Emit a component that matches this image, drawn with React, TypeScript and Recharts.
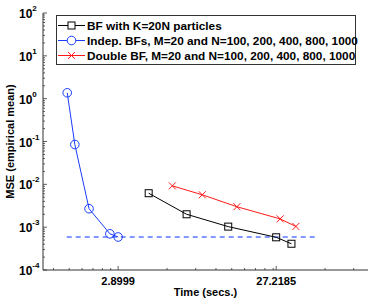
import React from 'react';
import { LineChart, Line, XAxis, YAxis } from 'recharts';

// time (secs.) and MSE for each run
const indepTime = [1.41, 1.57, 1.92, 2.58, 2.8999];
const indepMse = [1.37, 0.085, 0.0027, 0.0007, 0.00059];
const bfTime = [4.47, 7.65, 13.8, 27.2185, 33.8];
const bfMse = [0.0062, 0.002, 0.00103, 0.00058, 0.00041];
const doubleTime = [6.25, 9.55, 15.6, 28.8, 36.0];
const doubleMse = [0.0092, 0.0057, 0.003, 0.00156, 0.00104];
const floorTime = [1.4, 47.8];
const floorMse = [0.00059, 0.00059];

const legendLabels = [
    'BF with K=20N particles',
    'Indep. BFs, M=20 and N=100, 200, 400, 800, 1000',
    'Double BF, M=20 and N=100, 200, 400, 800, 1000',
];

const xMajor = [2.8999, 27.2185];
const yMajor = [1e-4, 1e-3, 1e-2, 1e-1, 1, 10, 100];
const yExp = ['-4', '-3', '-2', '-1', '0', '1', '2'];

// matlab puts minor ticks at multiples of the major step
const xMinor = [
    ...[4, 5, 6, 7, 8, 9].map((k) => (xMajor[0] * k) / 10),
    ...[2, 3, 4, 5, 6, 7, 8, 9].map((k) => xMajor[0] * k),
    xMajor[1] * 2,
    xMajor[1] * 3,
];
const xTicks = [...xMinor, ...xMajor].sort((a, b) => a - b);
const yTicks: number[] = [];
yMajor.forEach((v, i) => {
    yTicks.push(v);
    if (i < yMajor.length - 1) [2, 3, 4, 5, 6, 7, 8, 9].forEach((m) => yTicks.push(v * m));
});

const zip = (t: number[], m: number[]) => t.map((x, i) => ({ t: x, mse: m[i] }));
const indepData = zip(indepTime, indepMse);
const bfData = zip(bfTime, bfMse);
const doubleData = zip(doubleTime, doubleMse);
const floorData = zip(floorTime, floorMse);

const FONT = '"Liberation Sans", Arial, sans-serif';
const AX = '#333';
const BLUE = '#1a3cff';
const RED = '#ff1a1a';

const isMajorY = (v: number) => yMajor.some((m) => Math.abs(m - v) / m < 1e-9);

const XTick = (props: any) => {
    const { x, y, payload, top } = props;
    const major = xMajor.includes(payload.value);
    const len = major ? 4 : 2;
    const dir = top ? 1 : -1;
    return (
        <g>
            <line x1={x} x2={x} y1={y} y2={y + dir * len} stroke={AX} strokeWidth={0.8} />
            {!top && major && (
                <text x={x} y={y + 15} textAnchor="middle" fontFamily={FONT} fontWeight="bold" fontSize={11} fill="#000">
                    {payload.value}
                </text>
            )}
        </g>
    );
};

const YTick = (props: any) => {
    const { x, y, payload, right } = props;
    const major = isMajorY(payload.value);
    const len = major ? 4 : 2;
    const dir = right ? -1 : 1;
    const idx = yMajor.findIndex((m) => Math.abs(m - payload.value) / m < 1e-9);
    return (
        <g>
            <line x1={x} x2={x + dir * len} y1={y} y2={y} stroke={AX} strokeWidth={0.8} />
            {!right && major && (
                <text x={x - 24} y={y + 5} fontFamily={FONT} fontWeight="bold" fontSize={12} fill="#000">
                    10
                    <tspan dy={-7} fontSize={8}>{yExp[idx]}</tspan>
                </text>
            )}
        </g>
    );
};

const squareDot = (p: any) => (
    <rect key={`sq-${p.index}`} x={p.cx - 3.5} y={p.cy - 3.5} width={7} height={7} fill="none" stroke="#000" strokeWidth={1} />
);
const circleDot = (p: any) => (
    <circle key={`ci-${p.index}`} cx={p.cx} cy={p.cy} r={4.3} fill="none" stroke={BLUE} strokeWidth={1} />
);
const crossDot = (p: any) => (
    <path
        key={`cr-${p.index}`}
        d={`M${p.cx - 3.5},${p.cy - 3.5}L${p.cx + 3.5},${p.cy + 3.5}M${p.cx - 3.5},${p.cy + 3.5}L${p.cx + 3.5},${p.cy - 3.5}`}
        stroke={RED}
        strokeWidth={1}
    />
);

const legendMarkers = [
    { color: '#000', mark: (cx: number, cy: number) => <rect x={cx - 3.5} y={cy - 3.5} width={7} height={7} fill="white" stroke="#000" /> },
    { color: BLUE, mark: (cx: number, cy: number) => <circle cx={cx} cy={cy} r={4.3} fill="white" stroke={BLUE} /> },
    {
        color: RED,
        mark: (cx: number, cy: number) => (
            <path d={`M${cx - 3.5},${cy - 3.5}L${cx + 3.5},${cy + 3.5}M${cx - 3.5},${cy + 3.5}L${cx + 3.5},${cy - 3.5}`} stroke={RED} />
        ),
    },
];

const Legend = () => (
    <div
        style={{
            position: 'absolute',
            left: 56,
            top: 15,
            width: 300,
            height: 50,
            border: `1px solid ${AX}`,
            background: 'white',
            boxSizing: 'border-box',
        }}
    >
        {legendLabels.map((label, i) => (
            <div
                key={label}
                style={{ position: 'absolute', left: 0, top: 2 + i * 15, height: 15, display: 'flex', alignItems: 'center' }}
            >
                <svg width={30} height={15}>
                    <line x1={1} x2={28} y1={7.5} y2={7.5} stroke={legendMarkers[i].color} strokeWidth={1} />
                    {legendMarkers[i].mark(14.5, 7.5)}
                </svg>
                <span style={{ fontFamily: FONT, fontWeight: 'bold', fontSize: 11.8, whiteSpace: 'nowrap' }}>{label}</span>
            </div>
        ))}
    </div>
);

const MseChart: React.FC = () => {
    return (
        <div style={{ position: 'absolute', left: 0, top: 0, width: 374, height: 300, background: 'white' }}>
            <LineChart width={374} height={300} margin={{ top: 13, right: 6, bottom: 0, left: 0 }}>
                <XAxis
                    xAxisId="b"
                    dataKey="t"
                    type="number"
                    scale="log"
                    domain={[1, 100]}
                    allowDataOverflow
                    ticks={xTicks}
                    interval={0}
                    height={30}
                    tickSize={0}
                    tickMargin={0}
                    tickLine={false}
                    axisLine={{ stroke: AX }}
                    tick={<XTick />}
                    label={{
                        content: (p: any) => (
                            <text
                                x={p.viewBox.x + p.viewBox.width / 2}
                                y={p.viewBox.y + 26}
                                textAnchor="middle"
                                fontFamily={FONT}
                                fontWeight="bold"
                                fontSize={11}
                            >
                                Time (secs.)
                            </text>
                        ),
                    }}
                />
                <XAxis
                    xAxisId="top"
                    orientation="top"
                    type="number"
                    scale="log"
                    domain={[1, 100]}
                    allowDataOverflow
                    ticks={xTicks}
                    interval={0}
                    height={0}
                    tickSize={0}
                    tickMargin={0}
                    tickLine={false}
                    axisLine={{ stroke: AX }}
                    tick={<XTick top />}
                />
                <YAxis
                    yAxisId="l"
                    type="number"
                    scale="log"
                    domain={[1e-4, 100]}
                    allowDataOverflow
                    ticks={yTicks}
                    interval={0}
                    width={43}
                    tickSize={0}
                    tickMargin={0}
                    tickLine={false}
                    axisLine={{ stroke: AX }}
                    tick={<YTick />}
                    label={{
                        content: (p: any) => {
                            const cx = 10;
                            const cy = p.viewBox.y + p.viewBox.height / 2;
                            return (
                                <text
                                    x={cx}
                                    y={cy}
                                    transform={`rotate(-90 ${cx} ${cy})`}
                                    textAnchor="middle"
                                    dominantBaseline="central"
                                    fontFamily={FONT}
                                    fontWeight="bold"
                                    fontSize={11}
                                >
                                    MSE (empirical mean)
                                </text>
                            );
                        },
                    }}
                />
                <YAxis
                    yAxisId="r"
                    orientation="right"
                    type="number"
                    scale="log"
                    domain={[1e-4, 100]}
                    allowDataOverflow
                    ticks={yTicks}
                    interval={0}
                    width={0}
                    tickSize={0}
                    tickMargin={0}
                    tickLine={false}
                    axisLine={{ stroke: AX }}
                    tick={<YTick right />}
                />
                <Line
                    xAxisId="b"
                    yAxisId="l"
                    data={floorData}
                    dataKey="mse"
                    stroke="#5c78ff"
                    strokeWidth={1.3}
                    strokeDasharray="5 4"
                    dot={false}
                    activeDot={false}
                    isAnimationActive={false}
                />
                <Line
                    xAxisId="b"
                    yAxisId="l"
                    data={indepData}
                    dataKey="mse"
                    stroke={BLUE}
                    strokeWidth={1}
                    dot={circleDot}
                    activeDot={false}
                    isAnimationActive={false}
                />
                <Line
                    xAxisId="b"
                    yAxisId="l"
                    data={bfData}
                    dataKey="mse"
                    stroke="#000"
                    strokeWidth={1}
                    dot={squareDot}
                    activeDot={false}
                    isAnimationActive={false}
                />
                <Line
                    xAxisId="b"
                    yAxisId="l"
                    data={doubleData}
                    dataKey="mse"
                    stroke={RED}
                    strokeWidth={1}
                    dot={crossDot}
                    activeDot={false}
                    isAnimationActive={false}
                />
            </LineChart>
            <Legend />
        </div>
    );
};

export default MseChart;
